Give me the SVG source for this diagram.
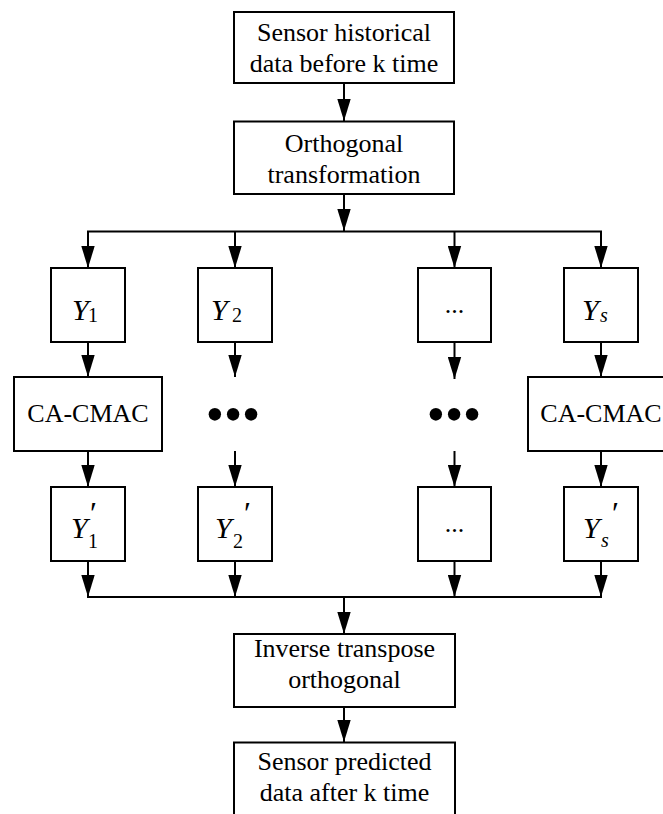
<svg xmlns="http://www.w3.org/2000/svg" width="663" height="814" viewBox="0 0 663 814">
<defs>
<marker id="ah" markerUnits="userSpaceOnUse" markerWidth="22" markerHeight="14" refX="22" refY="7" orient="auto">
<path d="M0,0.3 L22,7 L0,13.7 z" fill="#000"/>
</marker>
<style>
.box{fill:#fff;stroke:#000;stroke-width:2}
.t{font-family:"Liberation Serif","Times New Roman",serif;font-size:26px;fill:#000;text-anchor:middle}
.m{font-family:"Liberation Serif","Times New Roman",serif;font-size:30px;font-style:italic;fill:#000}
.sub{font-size:20px;font-style:normal}
.subi{font-size:20px;font-style:italic}
.pr{font-size:32px;font-style:italic}
.dots{font-family:"Liberation Serif","Times New Roman",serif;font-size:52px;fill:#000;text-anchor:middle}
.c{fill:none;stroke:#000;stroke-width:2}
</style>
</defs>
<rect width="663" height="814" fill="#fff"/>
<g id="connectors">
<line class="c" x1="344" y1="83" x2="344" y2="121" marker-end="url(#ah)"/>
<line class="c" x1="344" y1="194" x2="344" y2="231" marker-end="url(#ah)"/>
<line class="c" x1="87" y1="231.5" x2="602" y2="231.5"/>
<line class="c" x1="88" y1="231" x2="88" y2="268" marker-end="url(#ah)"/>
<line class="c" x1="235" y1="231" x2="235" y2="268" marker-end="url(#ah)"/>
<line class="c" x1="454.5" y1="231" x2="454.5" y2="268" marker-end="url(#ah)"/>
<line class="c" x1="601" y1="231" x2="601" y2="268" marker-end="url(#ah)"/>
<line class="c" x1="88" y1="342" x2="88" y2="377" marker-end="url(#ah)"/>
<line class="c" x1="235" y1="342" x2="235" y2="377" marker-end="url(#ah)"/>
<line class="c" x1="454.5" y1="342" x2="454.5" y2="379" marker-end="url(#ah)"/>
<line class="c" x1="601" y1="342" x2="601" y2="377" marker-end="url(#ah)"/>
<line class="c" x1="88" y1="451" x2="88" y2="487" marker-end="url(#ah)"/>
<line class="c" x1="235" y1="451" x2="235" y2="487" marker-end="url(#ah)"/>
<line class="c" x1="454.5" y1="451" x2="454.5" y2="487" marker-end="url(#ah)"/>
<line class="c" x1="601" y1="451" x2="601" y2="487" marker-end="url(#ah)"/>
<line class="c" x1="88" y1="561" x2="88" y2="597" marker-end="url(#ah)"/>
<line class="c" x1="235" y1="561" x2="235" y2="597" marker-end="url(#ah)"/>
<line class="c" x1="454.5" y1="561" x2="454.5" y2="597" marker-end="url(#ah)"/>
<line class="c" x1="601" y1="561" x2="601" y2="597" marker-end="url(#ah)"/>
<line class="c" x1="87" y1="597" x2="602" y2="597"/>
<line class="c" x1="344" y1="597" x2="344" y2="634" marker-end="url(#ah)"/>
<line class="c" x1="344" y1="707" x2="344" y2="742" marker-end="url(#ah)"/>
</g>
<g id="n_hist">
<rect class="box" x="234" y="12" width="220" height="71"/>
<text class="t" x="344" y="41">Sensor historical</text>
<text class="t" x="344" y="72">data before k time</text>
</g>
<g id="n_orth">
<rect class="box" x="234" y="121.5" width="220" height="72.5"/>
<text class="t" x="344" y="151.5">Orthogonal</text>
<text class="t" x="344" y="182.5">transformation</text>
</g>
<g id="n_y1">
<rect class="box" x="51" y="268" width="74" height="74"/>
<text class="m" x="72" y="320">Y<tspan class="sub" x="88" y="322">1</tspan></text>
</g>
<g id="n_y2">
<rect class="box" x="198" y="268" width="74" height="74"/>
<text class="m" x="211" y="320">Y<tspan class="sub" x="232" y="322">2</tspan></text>
</g>
<g id="n_ydots">
<rect class="box" x="418" y="268" width="73" height="74"/>
<text class="t" x="454.5" y="313">...</text>
</g>
<g id="n_ys">
<rect class="box" x="564" y="268" width="74" height="74"/>
<text class="m" x="582" y="320">Y<tspan class="subi" x="600" y="322">s</tspan></text>
</g>
<g id="n_cmac1">
<rect class="box" x="14" y="377" width="148" height="74"/>
<text class="t" x="88" y="422">CA-CMAC</text>
</g>
<g id="n_dots2">
<text class="dots" x="233" y="432">•••</text>
</g>
<g id="n_dots3">
<text class="dots" x="454" y="432">•••</text>
</g>
<g id="n_cmacs">
<rect class="box" x="528" y="377" width="148" height="74"/>
<text class="t" x="601" y="422">CA-CMAC</text>
</g>
<g id="n_y1p">
<rect class="box" x="51" y="487" width="74" height="74"/>
<text class="m" x="71" y="538">Y<tspan class="sub" x="88" y="548">1</tspan><tspan class="pr" x="88" y="524">′</tspan></text>
</g>
<g id="n_y2p">
<rect class="box" x="198" y="487" width="74" height="74"/>
<text class="m" x="215" y="538">Y<tspan class="sub" x="233" y="548">2</tspan><tspan class="pr" x="242" y="524">′</tspan></text>
</g>
<g id="n_ydotsp">
<rect class="box" x="418" y="487" width="73" height="74"/>
<text class="t" x="454.5" y="532">...</text>
</g>
<g id="n_ysp">
<rect class="box" x="564" y="487" width="74" height="74"/>
<text class="m" x="583" y="538">Y<tspan class="subi" x="601" y="547">s</tspan><tspan class="pr" x="610" y="524">′</tspan></text>
</g>
<g id="n_inv">
<rect class="box" x="234" y="634" width="221" height="73"/>
<text class="t" x="344.5" y="657">Inverse transpose</text>
<text class="t" x="344.5" y="688">orthogonal</text>
</g>
<g id="n_pred">
<rect class="box" x="234" y="742.5" width="221" height="90"/>
<text class="t" x="344.5" y="770">Sensor predicted</text>
<text class="t" x="344.5" y="801">data after k time</text>
</g>
</svg>
